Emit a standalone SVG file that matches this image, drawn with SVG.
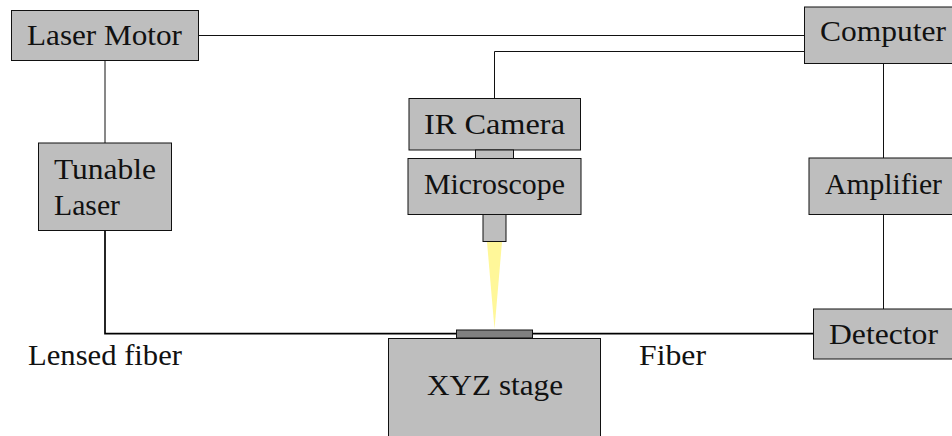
<svg xmlns="http://www.w3.org/2000/svg" width="952" height="436" viewBox="0 0 952 436">
<style>
text{font-family:"Liberation Serif","Times New Roman",serif;font-size:29px;fill:#111}
.b{fill:#bebebe;stroke:#111;stroke-width:1}
.c{fill:none;stroke:#111;stroke-width:1}
.f{fill:none;stroke:#000;stroke-width:1.700}
</style>
<rect width="952" height="436" fill="#fff"/>
<g id="connectors">
<path class="c" d="M198.500 35.500H804.500"/>
<path class="c" d="M494.500 98.500V51.500H804.500"/>
<path class="c" d="M105 60.500V143"/>
<path class="c" d="M883.500 63.500V158"/>
<path class="c" d="M883.500 214.500V309"/>
<path class="f" d="M105 230.500V333.700H456.500"/>
<path class="f" d="M532.500 333.700H813.500"/>
</g>
<g id="laser-motor"><rect class="b" x="11.500" y="10.500" width="187" height="50"/><text x="27" y="45" textLength="155" lengthAdjust="spacingAndGlyphs">Laser Motor</text></g>
<g id="tunable-laser"><rect class="b" x="38.500" y="143" width="133" height="87.500"/><text x="54" y="179" textLength="102" lengthAdjust="spacingAndGlyphs">Tunable</text><text x="54" y="215" textLength="66" lengthAdjust="spacingAndGlyphs">Laser</text></g>
<g id="computer"><rect class="b" x="804.500" y="7" width="160" height="56.500"/><text x="820" y="41" textLength="126" lengthAdjust="spacingAndGlyphs">Computer</text></g>
<g id="amplifier"><rect class="b" x="809" y="158" width="160" height="56.500"/><text x="825" y="194" textLength="117" lengthAdjust="spacingAndGlyphs">Amplifier</text></g>
<g id="detector"><rect class="b" x="813.500" y="309" width="160" height="50"/><text x="829" y="344" textLength="109" lengthAdjust="spacingAndGlyphs">Detector</text></g>
<g id="ir-camera"><rect class="b" x="409" y="98.500" width="171.500" height="51.500"/><text x="424" y="134" textLength="141" lengthAdjust="spacingAndGlyphs">IR Camera</text></g>
<g id="camera-neck"><rect class="b" x="475.500" y="150" width="38" height="8.500"/></g>
<g id="microscope"><rect class="b" x="408" y="158.500" width="173" height="56"/><text x="424" y="194" textLength="141" lengthAdjust="spacingAndGlyphs">Microscope</text></g>
<g id="objective"><rect class="b" x="483" y="214.500" width="23" height="27"/></g>
<g id="beam"><path d="M487 242H502L494.500 329Z" fill="#fff799"/></g>
<g id="sample"><rect x="456.500" y="330" width="76" height="8" fill="#808080" stroke="#111"/></g>
<g id="xyz-stage"><rect class="b" x="388.500" y="338.500" width="212" height="110"/><text x="427" y="395" textLength="136" lengthAdjust="spacingAndGlyphs">XYZ stage</text></g>
<g id="lensed-fiber"><text x="28" y="365" textLength="154" lengthAdjust="spacingAndGlyphs">Lensed fiber</text></g>
<g id="fiber"><text x="639" y="365" textLength="67" lengthAdjust="spacingAndGlyphs">Fiber</text></g>
</svg>
